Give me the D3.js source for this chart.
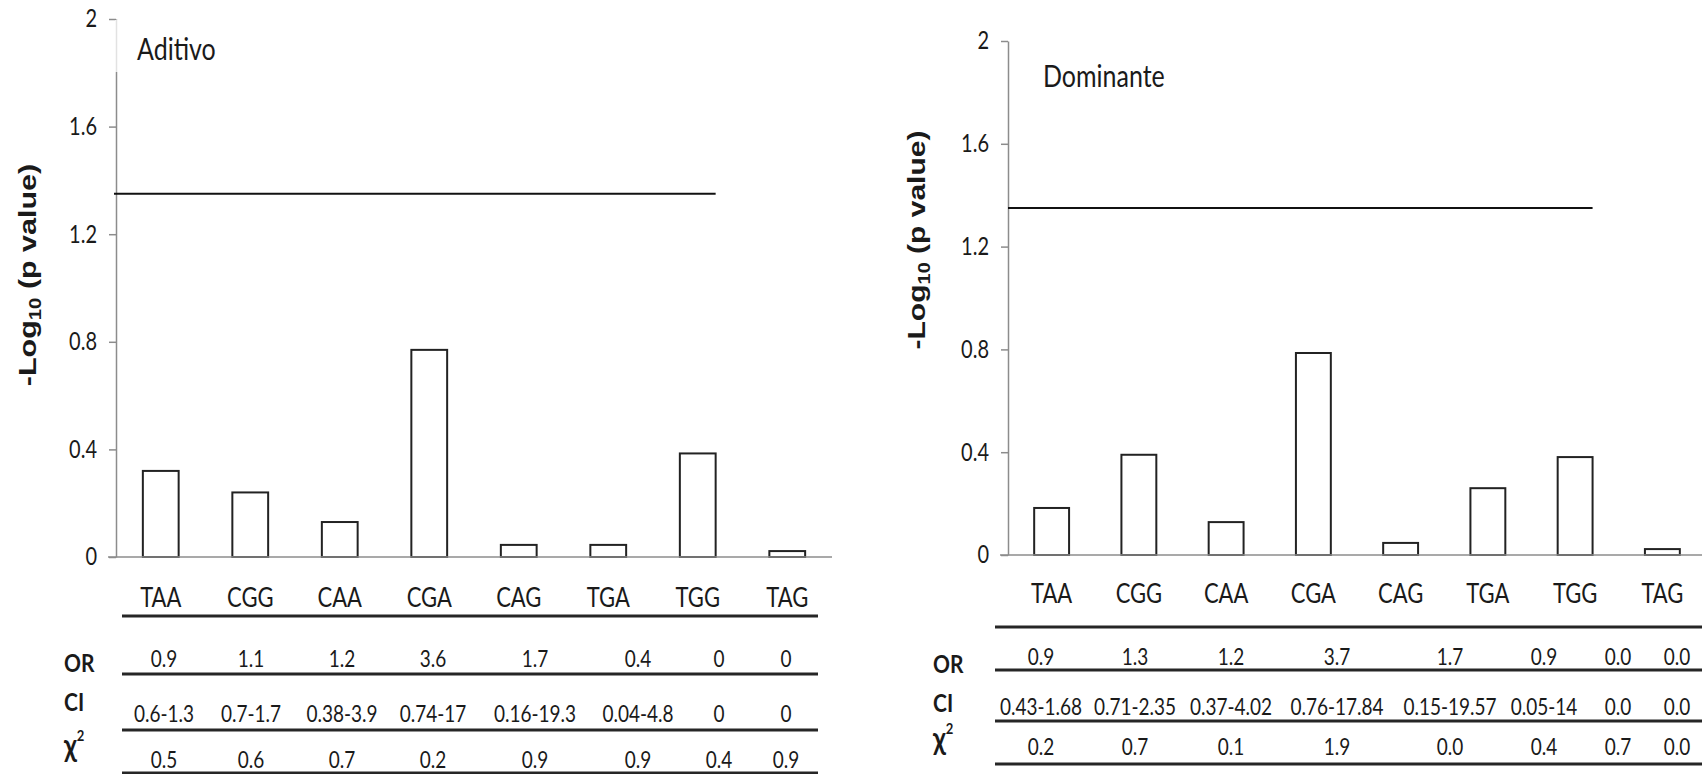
<!DOCTYPE html>
<html>
<head>
<meta charset="utf-8">
<script src="https://cdnjs.cloudflare.com/ajax/libs/d3/7.8.5/d3.min.js"></script>
<style>
body { margin: 0; background: #fff; }
text { font-family: Lato, "Open Sans", sans-serif; fill: #1a1a1a; }
.axis path, .axis line { stroke: #8c8c8c; stroke-width: 1.5; }
.bar { fill: #fff; stroke: #222; stroke-width: 2; }
.rule { stroke: #262626; stroke-width: 3; }
.ylab { font-family: "Liberation Sans", Arial, sans-serif; font-weight: bold; }
</style>
</head>
<body>
<script>

// ----------------------------- data -----------------------------
var haplotypes = ["TAA", "CGG", "CAA", "CGA", "CAG", "TGA", "TGG", "TAG"];
var yTicks = [0, 0.4, 0.8, 1.2, 1.6, 2];
var threshold = 1.35;   // the horizontal significance line

// -Log10(p) per haplotype
var aditivoP   = [0.32, 0.24, 0.13, 0.77, 0.045, 0.045, 0.385, 0.022];
var dominanteP = [0.183, 0.39, 0.128, 0.786, 0.047, 0.26, 0.381, 0.023];

// table under each chart
var aditivoOR  = ["0.9", "1.1", "1.2", "3.6", "1.7", "0.4", "0", "0"];
var aditivoCI  = ["0.6-1.3", "0.7-1.7", "0.38-3.9", "0.74-17", "0.16-19.3", "0.04-4.8", "0", "0"];
var aditivoChi = ["0.5", "0.6", "0.7", "0.2", "0.9", "0.9", "0.4", "0.9"];

var dominanteOR  = ["0.9", "1.3", "1.2", "3.7", "1.7", "0.9", "0.0", "0.0"];
var dominanteCI  = ["0.43-1.68", "0.71-2.35", "0.37-4.02", "0.76-17.84", "0.15-19.57", "0.05-14", "0.0", "0.0"];
var dominanteChi = ["0.2", "0.7", "0.1", "1.9", "0.0", "0.4", "0.7", "0.0"];

// ----------------------------- layout of the two panels -----------------------------
var W = 1702, H = 774;
var SY = 1.22;   // text in the picture is a bit taller than wide

var panels = [
    { title: "Aditivo", values: aditivoP, or: aditivoOR, ci: aditivoCI, chi: aditivoChi,
      x0: 116, x1: 832, yBase: 557, yTop: 19, lineLead: 2,
      titleX: 137, titleY: 60, labX: 36, labY: 275, labStretch: 1.27,
      fade: true,
      headY: 607, rules: [616, 674, 730, 773], tx0: 122, tx1: 818,
      cols: [164, 251, 342, 433, 535, 638, 719, 786],
      rowY: [667, 722, 768], nameX: 64, nameY: [672, 711, 757] },
    { title: "Dominante", values: dominanteP, or: dominanteOR, ci: dominanteCI, chi: dominanteChi,
      x0: 1008, x1: 1706, yBase: 555, yTop: 41, lineLead: 0,
      titleX: 1043, titleY: 87, labX: 925, labY: 240, labStretch: 1.25,
      fade: false,
      headY: 603, rules: [627, 670, 721, 764], tx0: 995, tx1: 1702,
      cols: [1041, 1135, 1231, 1337, 1450, 1544, 1618, 1677],
      rowY: [665, 715, 755], nameX: 933, nameY: [673, 712, 750] }
];

var svg = d3.select("body").append("svg")
    .attr("width", W)
    .attr("height", H);

// text helper, stretched a little in y like the source
function stext(g, x, y, str, size, anchor, weight) {
    return g.append("text")
        .attr("transform", "translate(" + x + "," + y + ") scale(1," + SY + ")")
        .attr("text-anchor", anchor || "middle")
        .style("font-size", size + "px")
        .style("font-weight", weight || "normal")
        .text(str);
}

function plot_panel(prop) {
    var g = svg.append("g");

    var x = d3.scaleBand().domain(haplotypes)
        .range([prop.x0, prop.x1])
        .paddingInner(0.6)
        .paddingOuter(0.3);
    var y = d3.scaleLinear().domain([0, 2]).range([prop.yBase, prop.yTop]);

    // bars
    g.append("g").selectAll("rect")
        .data(prop.values)
        .join("rect")
        .attr("class", "bar")
        .attr("x", function(d, i) { return x(haplotypes[i]); })
        .attr("y", function(d) { return y(d); })
        .attr("width", x.bandwidth())
        .attr("height", function(d) { return y(0) - y(d); });

    // x axis (plain line, starts under the tick marks)
    g.append("line")
        .attr("x1", prop.x0 - 8).attr("x2", prop.x1)
        .attr("y1", y(0)).attr("y2", y(0))
        .style("stroke", "#8c8c8c").style("stroke-width", 1.5);

    // y axis
    var yAx = g.append("g")
        .attr("class", "axis")
        .attr("transform", "translate(" + prop.x0 + ",0)")
        .call(d3.axisLeft(y)
            .tickValues(yTicks)
            .tickSize(7)
            .tickSizeOuter(0)
            .tickPadding(12)
            .tickFormat(String));
    yAx.selectAll("text")
        .style("font-size", "20px")
        .attr("transform", "scale(1," + SY + ")");

    // significance line
    g.append("line")
        .attr("x1", prop.x0 - prop.lineLead)
        .attr("x2", x("TGG") + x.bandwidth())
        .attr("y1", y(threshold)).attr("y2", y(threshold))
        .style("stroke", "#111").style("stroke-width", 2);

    // text box of the title washes out the top of the axis on the left panel
    if (prop.fade) {
        g.append("rect")
            .attr("x", prop.x0 - 1).attr("y", prop.yTop + 1)
            .attr("width", 150).attr("height", 52)
            .style("fill", "#fff").style("opacity", 0.75);
    }
    stext(g, prop.titleX, prop.titleY, prop.title, 25, "start");

    // y label
    var lab = g.append("text")
        .attr("class", "ylab")
        .attr("transform", "translate(" + prop.labX + "," + prop.labY + ") rotate(-90) scale(" + prop.labStretch + ",1)")
        .attr("text-anchor", "middle")
        .style("font-size", "24px");
    lab.append("tspan").text("-Log");
    lab.append("tspan").style("font-size", "16px").attr("dy", "5").text("10");
    lab.append("tspan").attr("dy", "-5").text(" (p value)");

    // ---------------- table ----------------
    haplotypes.forEach(function(h) {
        stext(g, x(h) + x.bandwidth() / 2, prop.headY, h, 22);
    });

    g.selectAll(".rule")
        .data(prop.rules)
        .join("line")
        .attr("class", "rule")
        .attr("x1", prop.tx0).attr("x2", prop.tx1)
        .attr("y1", function(d) { return d; })
        .attr("y2", function(d) { return d; });

    var col = d3.scaleOrdinal().domain(haplotypes).range(prop.cols);
    [prop.or, prop.ci, prop.chi].forEach(function(row, r) {
        row.forEach(function(v, i) {
            stext(g, col(haplotypes[i]), prop.rowY[r], v, 19);
        });
    });

    stext(g, prop.nameX, prop.nameY[0], "OR", 21, "start", "bold");
    stext(g, prop.nameX, prop.nameY[1], "CI", 21, "start", "bold");
    var chi = stext(g, prop.nameX, prop.nameY[2], "", 26, "start", "bold");
    chi.append("tspan").text("χ");
    chi.append("tspan").style("font-size", "13px").attr("dy", "-13").text("2");
}

panels.forEach(function(p) { plot_panel(p); });

</script>
</body>
</html>
